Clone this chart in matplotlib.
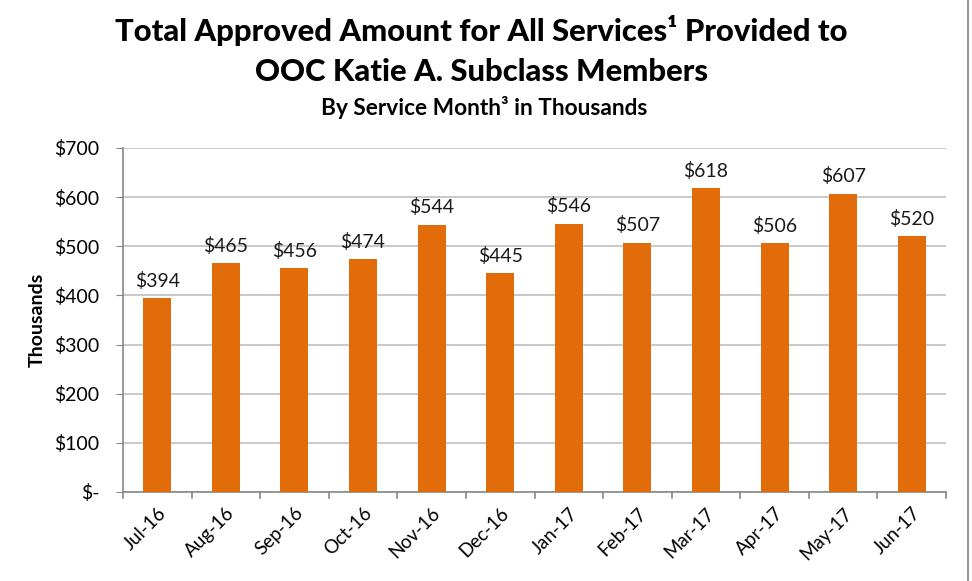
import matplotlib
matplotlib.use("Agg")
import matplotlib.pyplot as plt
from matplotlib.lines import Line2D

months = ["Jul-16", "Aug-16", "Sep-16", "Oct-16", "Nov-16", "Dec-16",
          "Jan-17", "Feb-17", "Mar-17", "Apr-17", "May-17", "Jun-17"]
amounts = [394, 465, 456, 474, 544, 445, 546, 507, 618, 506, 607, 520]
yticks = [0, 100, 200, 300, 400, 500, 600, 700]
ytick_labels = ["$-", "$100", "$200", "$300", "$400", "$500", "$600", "$700"]

plt.rcParams["font.family"] = ["Lato", "DejaVu Sans"]

fig = plt.figure(figsize=(9.72, 5.81), dpi=100)
ax = fig.add_axes([0.1265, 0.1532, 0.8468, 0.5921])

x = list(range(len(months)))
ax.bar(x, amounts, width=0.41, color="#E36C0A", zorder=3)

for xi, v in zip(x, amounts):
    ax.annotate(f"${v}", (xi, v), xytext=(0, 6), textcoords="offset points",
                ha="center", va="bottom", fontsize=14, color="#1a1a1a")

ax.set_xlim(-0.5, len(months) - 0.5)
ax.set_ylim(0, 700)
ax.set_yticks(yticks)
ax.set_yticklabels(ytick_labels, fontsize=14)
ax.set_xticks(x)
ax.set_xticklabels(months, rotation=45, ha="right", rotation_mode="anchor", fontsize=13.5)
ax.tick_params(axis="x", length=0, pad=9)
ax.tick_params(axis="y", length=5, color="#888888", pad=12)

# category boundary tick marks
for b in range(len(months) + 1):
    ax.plot([b - 0.5, b - 0.5], [0, -12], color="#888888", lw=1.2,
            clip_on=False, zorder=4)

ax.grid(axis="y", color="#C0C0C0", lw=1.2, zorder=0)
for s in ["top", "right"]:
    ax.spines[s].set_visible(False)
for s in ["left", "bottom"]:
    ax.spines[s].set_color("#888888")
    ax.spines[s].set_linewidth(1.2)

ax.set_ylabel("Thousands", fontsize=14, fontweight="bold", labelpad=6)

fig.text(0.495, 0.948, "Total Approved Amount for All Services\u00b9 Provided to",
         ha="center", va="center", fontsize=22.3, fontweight="black")
fig.text(0.495, 0.876, "OOC Katie A. Subclass Members",
         ha="center", va="center", fontsize=22.3, fontweight="black")
fig.text(0.498, 0.815, "By Service Month\u00b3 in Thousands",
         ha="center", va="center", fontsize=16.3, fontweight="bold")

fig.add_artist(Line2D([968 / 972, 968 / 972], [0, 1], color="#999999", lw=1.5))

fig.savefig("out.png", dpi=100)
